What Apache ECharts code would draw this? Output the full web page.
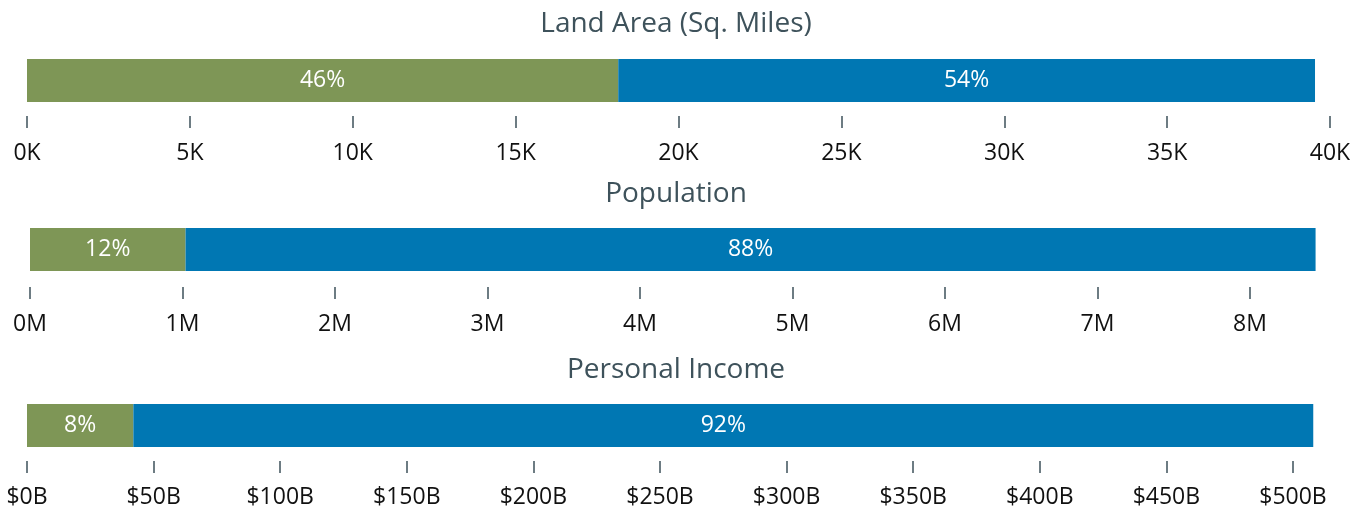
<!DOCTYPE html>
<html>
<head>
<meta charset="utf-8">
<script src="https://cdn.jsdelivr.net/npm/echarts@6/dist/echarts.min.js"></script>
<style>
  html, body { margin: 0; padding: 0; background: #fff; }
  #chart { width: 1367px; height: 514px; }
</style>
</head>
<body>
<div id="chart"></div>
<script>
// 数据
const titles = ['Land Area (Sq. Miles)', 'Population', 'Personal Income']
const groupA = [18150, 1.02, 42]    // green segment
const groupB = [21390, 7.41, 466]   // blue segment
const axisMax = [40000, 8, 500]
const axisStep = [5000, 1, 50]
const tickFormat = [
  v => (v / 1000) + 'K',
  v => v + 'M',
  v => '$' + v + 'B'
]

const GREEN = '#7e9656'
const BLUE = '#0077b3'
const SLATE = '#3e525b'
const FONT = 'Open Sans'

// layout per panel
const panels = [
  { left: 27, width: 1303, top: 59, title: 5, offset: 14, margin: 26 },
  { left: 30, width: 1220, top: 228, title: 175, offset: 16, margin: 26 },
  { left: 27, width: 1266, top: 404, title: 351, offset: 14, margin: 25 }
]

const chart = echarts.init(document.getElementById('chart'))

const option = {
  animation: false,
  title: [],
  grid: [],
  xAxis: [],
  yAxis: [],
  series: []
}

panels.forEach((p, i) => {
  const total = groupA[i] + groupB[i]
  const pct = v => Math.round(v / total * 100) + '%'

  option.title.push({
    text: titles[i],
    left: 671,
    top: p.title,
    textAlign: 'center',
    textStyle: { fontFamily: FONT, fontSize: 28, fontWeight: 'normal', color: SLATE }
  })
  option.grid.push({ left: p.left, width: p.width, top: p.top, height: 43 })
  option.xAxis.push({
    type: 'value',
    gridIndex: i,
    min: 0,
    max: axisMax[i],
    interval: axisStep[i],
    offset: p.offset,
    splitLine: { show: false },
    axisLine: { show: false },
    axisTick: { show: true, length: 12, lineStyle: { color: SLATE, width: 1.5 } },
    axisLabel: {
      margin: p.margin,
      fontFamily: FONT,
      fontSize: 23,
      color: '#111',
      formatter: tickFormat[i]
    }
  })
  option.yAxis.push({
    type: 'category',
    gridIndex: i,
    data: [titles[i]],
    show: false
  })
  const base = {
    type: 'bar',
    xAxisIndex: i,
    yAxisIndex: i,
    stack: 'total' + i,
    barWidth: 43,
    clip: false,
    label: {
      show: true,
      position: 'inside',
      fontFamily: FONT,
      fontSize: 23,
      color: '#fff',
      formatter: d => pct(d.value)
    }
  }
  option.series.push(Object.assign({}, base, { data: [groupA[i]], itemStyle: { color: GREEN } }))
  option.series.push(Object.assign({}, base, { data: [groupB[i]], itemStyle: { color: BLUE } }))
})

chart.setOption(option)
</script>
</body>
</html>
